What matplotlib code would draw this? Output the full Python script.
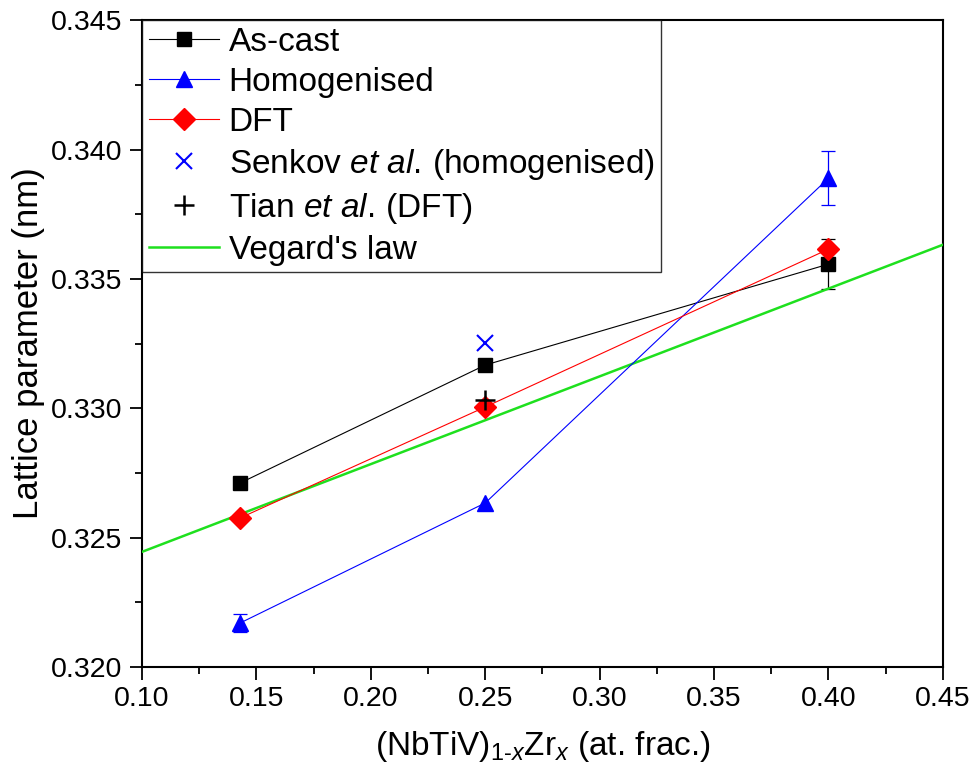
import matplotlib
matplotlib.use("Agg")
import matplotlib.pyplot as plt
from matplotlib.ticker import MultipleLocator, FormatStrFormatter

plt.rcParams['font.family'] = ['Liberation Sans', 'DejaVu Sans']
plt.rcParams['mathtext.fontset'] = 'custom'
plt.rcParams['mathtext.rm'] = 'Liberation Sans'
plt.rcParams['mathtext.it'] = 'Liberation Sans:italic'

# compositions (Zr atomic fraction)
x_exp = [1 / 7, 0.25, 0.40]

as_cast = [0.32711, 0.33167, 0.33557]
# error bars only where visible in the reference
as_cast_err_x = [0.40]
as_cast_err_y = [0.33557]
as_cast_err = [0.00098]

homogenised = [0.32170, 0.32634, 0.33889]
homog_err_x = [1 / 7, 0.40]
homog_err_y = [0.32170, 0.33889]
homog_err = [0.00035, 0.00104]

dft = [0.32576, 0.33005, 0.33615]

senkov_x = [0.25]
senkov_y = [0.33252]
tian_x = [0.25]
tian_y = [0.33032]

vegard_x = [0.10, 0.45]
vegard_y = [0.32445, 0.33632]

fig = plt.figure(figsize=(9.75, 7.74), dpi=100)
ax = fig.add_axes([0.1456, 0.1382, 0.8215, 0.8358])

h1, = ax.plot(x_exp, as_cast, color='black', lw=0.8, marker='s', ms=10,
              label='As-cast', zorder=4)
ax.errorbar(as_cast_err_x, as_cast_err_y, yerr=as_cast_err, ls='none',
            color='black', capsize=5, elinewidth=0.9, capthick=0.9, zorder=3)
h2, = ax.plot(x_exp, homogenised, color='#0000ff', lw=0.8, marker='^', ms=12,
              label='Homogenised', zorder=4)
ax.errorbar(homog_err_x, homog_err_y, yerr=homog_err, ls='none',
            color='#0000ff', capsize=5, elinewidth=0.9, capthick=0.9, zorder=3)
h3, = ax.plot(x_exp, dft, color='#ff0000', lw=0.8, marker='D', ms=11,
              label='DFT', zorder=4)
h4, = ax.plot(senkov_x, senkov_y, ls='none', color='#0000ff', marker='x',
              ms=12, mew=1.5,
              label=r'Senkov $\mathit{et\ al.}\,$(homogenised)', zorder=5)
h5, = ax.plot(tian_x, tian_y, ls='none', color='black', marker='+', ms=14,
              mew=1.8, label=r'Tian $\mathit{et\ al.}\,$(DFT)', zorder=5)
h6, = ax.plot(vegard_x, vegard_y, color='#1ee01e', lw=1.8,
              label="Vegard's law", zorder=3)

ax.set_xlim(0.10, 0.45)
ax.set_ylim(0.320, 0.345)
ax.xaxis.set_major_locator(MultipleLocator(0.05))
ax.xaxis.set_minor_locator(MultipleLocator(0.025))
ax.yaxis.set_major_locator(MultipleLocator(0.005))
ax.yaxis.set_minor_locator(MultipleLocator(0.0025))
ax.xaxis.set_major_formatter(FormatStrFormatter('%.2f'))
ax.yaxis.set_major_formatter(FormatStrFormatter('%.3f'))

for s in ax.spines.values():
    s.set_linewidth(1.5)
ax.tick_params(which='both', direction='out', top=False, right=False,
               width=1.3, labelsize=20.5)
ax.tick_params(which='major', length=9, pad=5)
ax.tick_params(which='minor', length=5)

ax.set_xlabel(r'(NbTiV)$_{1\text{-}x}$Zr$_x$ (at. frac.)', fontsize=24,
              labelpad=12)
ax.set_ylabel('Lattice parameter (nm)', fontsize=25, labelpad=4)

leg = ax.legend(handles=[h1, h2, h3, h4, h5, h6], loc='upper left',
                fontsize=24, frameon=True, fancybox=False, edgecolor='black',
                borderaxespad=0, borderpad=0.2, labelspacing=0.27,
                handlelength=2.1, handletextpad=0.3, numpoints=1)
leg.get_frame().set_linewidth(1.0)

fig.savefig('out.png', dpi=100)
